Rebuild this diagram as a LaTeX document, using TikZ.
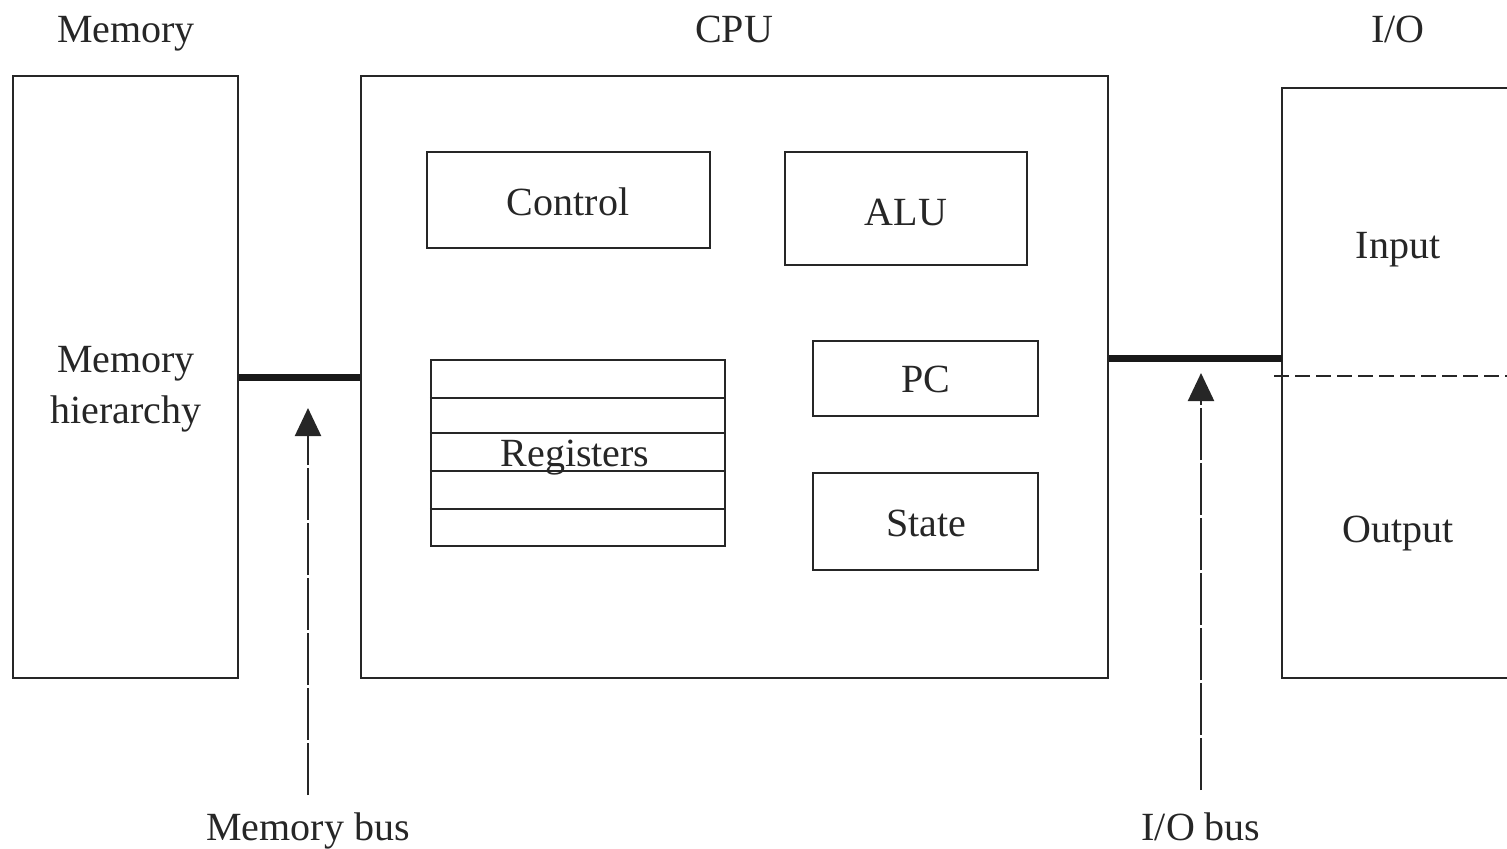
\documentclass[tikz,border=0pt]{standalone}
\usepackage{fontspec}
\setmainfont{Liberation Serif}
\usetikzlibrary{arrows.meta}
\begin{document}
\begin{tikzpicture}[x=0.5pt,y=-0.5pt,
  box/.style={draw=black!85,line width=1.2pt,inner sep=0pt},
  lbl/.style={font=\fontsize{20}{25.5}\selectfont,text=black!85,inner sep=0pt,anchor=base},
  bus/.style={line width=3.5pt,black!90},
  busarrow/.style={line width=1.1pt,black!85,dash pattern=on 26pt off 1.5pt,-{Triangle[length=14pt,width=13pt]}},
  iodash/.style={line width=1pt,black!85,dash pattern=on 7.5pt off 3pt}]
\useasboundingbox (0,0) rectangle (1507,848);
% outer boxes
\node[box,minimum width=112.5pt,minimum height=301pt] (mem) at (125.5,377) {};
\node[box,minimum width=373.5pt,minimum height=301pt] (cpu) at (734.5,377) {};
\draw[box] (1507,88) -- (1282,88) -- (1282,678) -- (1507,678);
\coordinate (ioL) at (1282,358);
\coordinate (ioy) at (0,358);
% header labels
\node[lbl] (tmem) at (126,42) {Memory};
\node[lbl] (tcpu) at (734,42) {CPU};
\node[lbl] (tio) at (1398,42) {I/O};
\node[lbl,align=center] (mh) at (126,423) {Memory\\hierarchy};
% inner boxes
\node[box,minimum width=141.5pt,minimum height=48pt] (ctrl) at (568.5,200) {};
\node[lbl] (ctrlt) at (568,215) {Control};
\node[box,minimum width=121pt,minimum height=56.5pt] (alu) at (906,208.5) {};
\node[lbl] (alut) at (906,225) {ALU};
\node[box,minimum width=112.5pt,minimum height=37.5pt] (pc) at (925.5,378.5) {};
\node[lbl] (pct) at (926,392) {PC};
\node[box,minimum width=112.5pt,minimum height=48.5pt] (state) at (925.5,521.5) {};
\node[lbl] (statet) at (926,536) {State};
% registers
\node[box,minimum width=147pt,minimum height=93pt] (regs) at (578,453) {};
\foreach \yy in {398,433,471,509}
  \draw[line width=1.2pt,black!85] (regs.west |- 0,\yy) -- (regs.east |- 0,\yy);
\node[lbl] (rlab) at (575,466) {Registers};
% I/O
\node[lbl] (inp) at (1398,258) {Input};
\node[lbl] (outp) at (1398,542) {Output};
\coordinate (dashL) at (1274,376);
\coordinate (dashR) at (1507,376);
\draw[iodash] (dashL) -- (dashR);
% buses
\draw[bus] (mem.east) -- (cpu.west);
\draw[bus] (cpu.east |- ioy) -- (ioL);
% bus labels and arrows
\node[lbl] (mbus) at (308,840) {Memory bus};
\node[lbl] (iobus) at (1201,840) {I/O bus};
\coordinate (mtip) at (308,408);
\coordinate (iotip) at (1201,373);
\draw[busarrow] (mbus.north |- 0,795) -- (mtip);
\draw[busarrow] (iobus.north |- 0,790) -- (iotip);
\end{tikzpicture}
\end{document}
